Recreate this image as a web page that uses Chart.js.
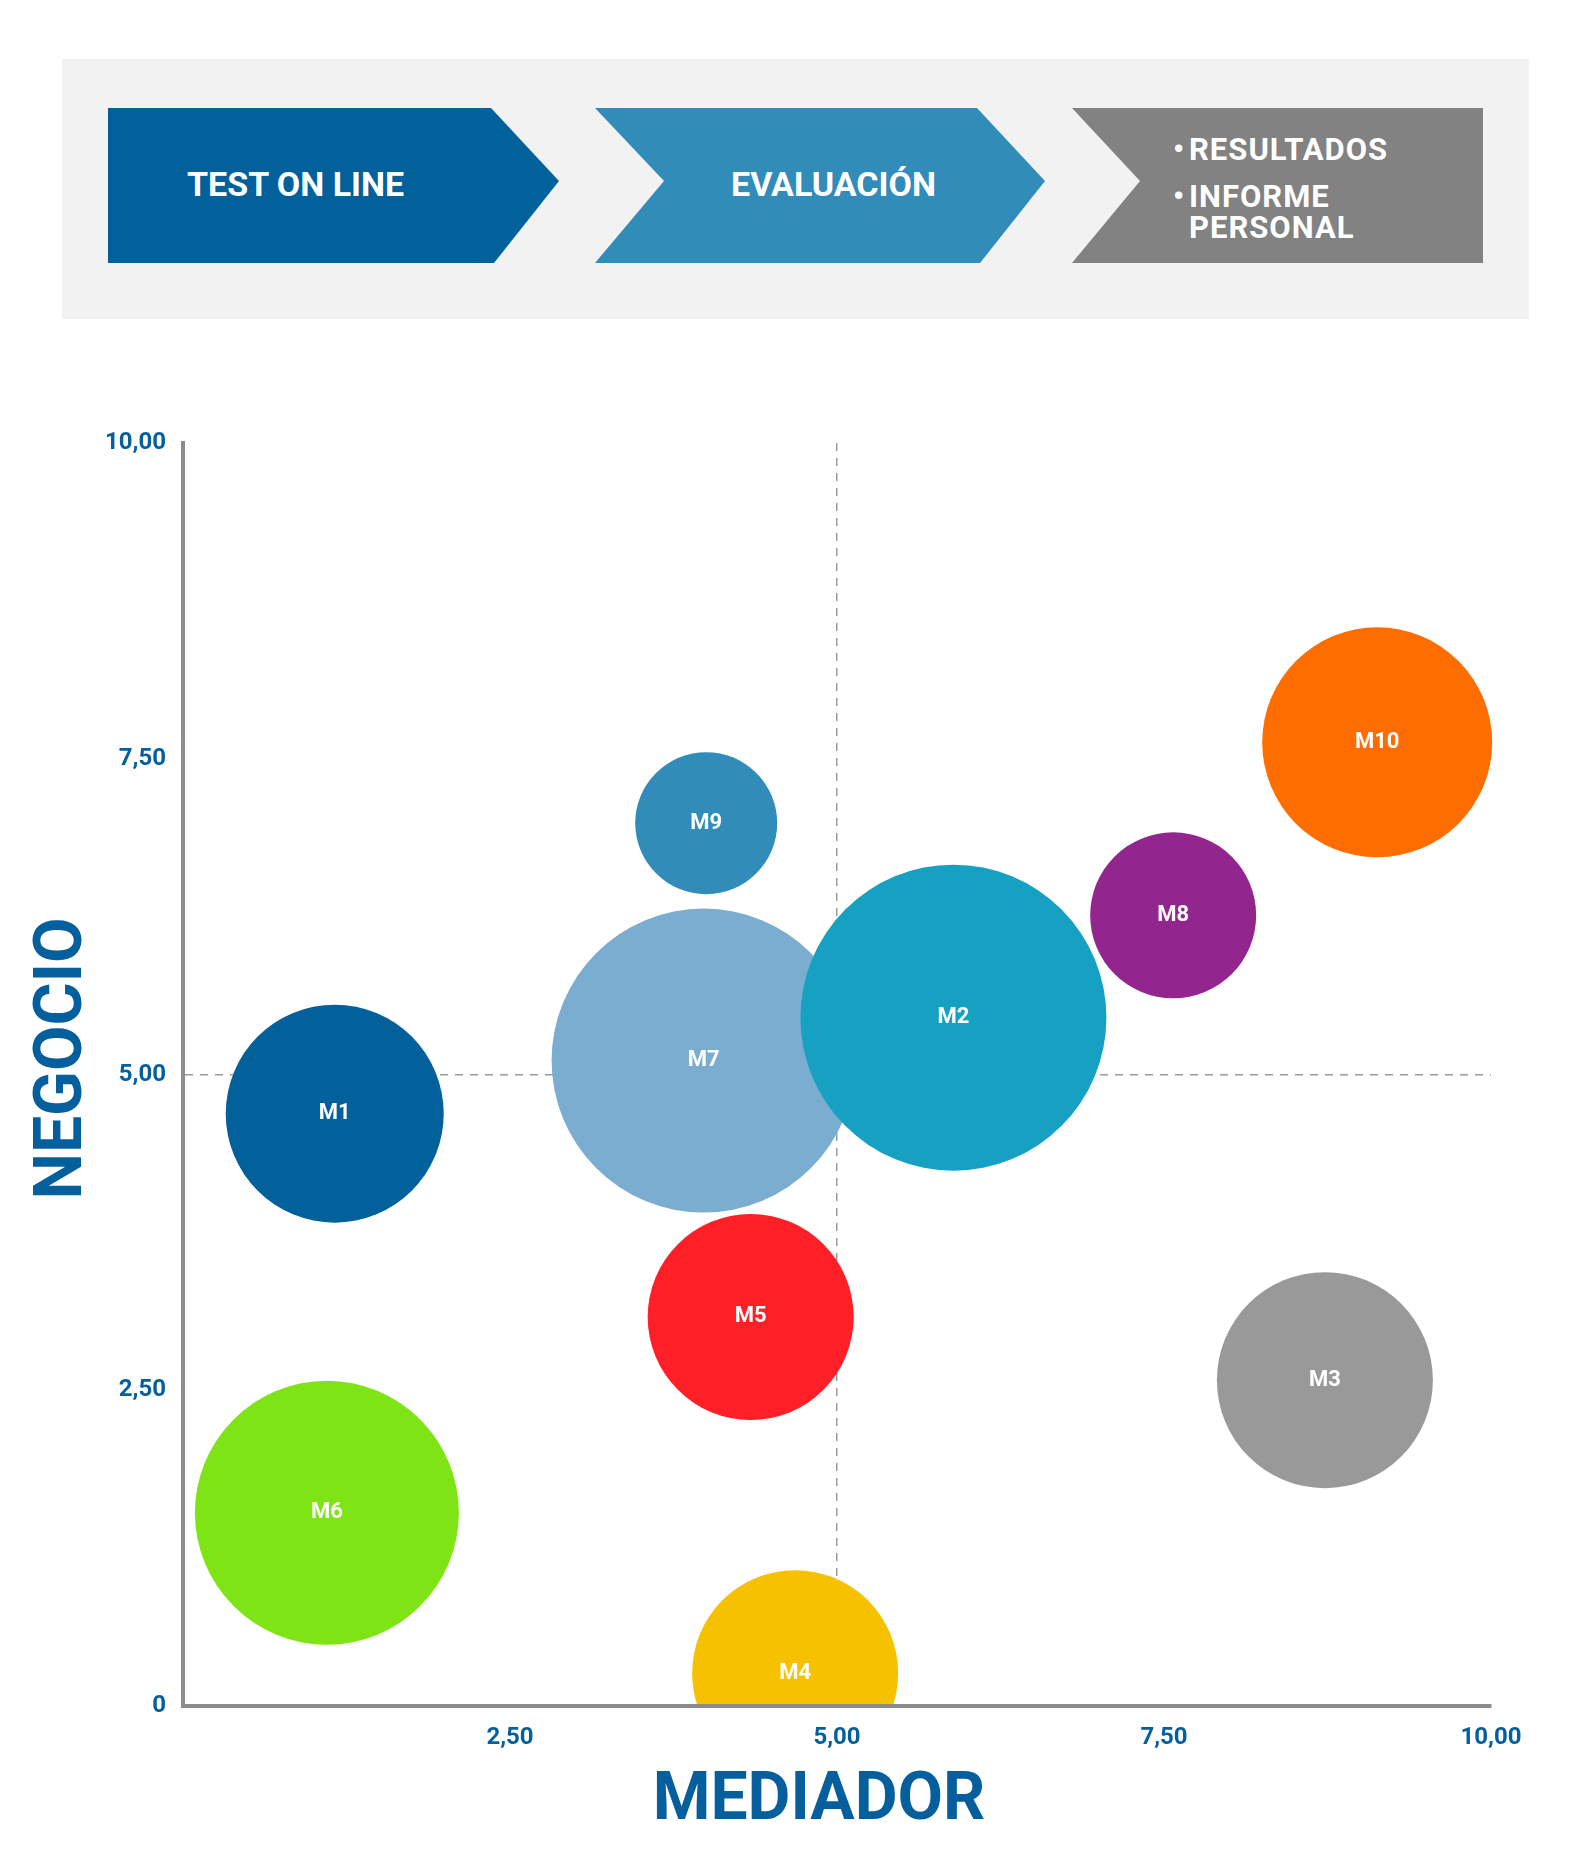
<!DOCTYPE html>
<html>
<head>
<meta charset="utf-8">
<script src="https://cdn.jsdelivr.net/npm/chart.js@4.4.1/dist/chart.umd.min.js"></script>
<style>
  body { margin: 0; background: #fff; font-family: Roboto, "Noto Sans", sans-serif; }
  #page { position: relative; width: 1592px; height: 1876px; overflow: hidden; }
  #chart { position: absolute; left: 0; top: 0; }
  .panel { position: absolute; left: 62px; top: 59px; width: 1467px; height: 260px; background: #f2f2f2; }
  .arrow { position: absolute; top: 108px; height: 155px; }
  .step { position: absolute; color: #fff; font-weight: bold; white-space: nowrap; }
</style>
</head>
<body>
<div id="page">
  <canvas id="chart" width="1592" height="1876"></canvas>

  <div class="panel"></div>
  <div class="arrow" style="left:108px;width:451px;background:#02609b;clip-path:polygon(0 0,383px 0,451px 73px,386px 155px,0 155px);"></div>
  <div class="arrow" style="left:595px;width:450px;background:#318cb9;clip-path:polygon(0 0,382px 0,450px 73px,385px 155px,0 155px,69px 73px);"></div>
  <div class="arrow" style="left:1072px;width:411px;background:#828282;clip-path:polygon(0 0,411px 0,411px 155px,0 155px,68px 73px);"></div>

  <div class="step" style="left:187px;top:164px;font-size:34px;line-height:40px;">TEST ON LINE</div>
  <div class="step" style="left:731px;top:164px;font-size:34px;line-height:40px;">EVALUACIÓN</div>
  <div class="step" style="left:1173px;top:134px;font-size:31px;line-height:32px;letter-spacing:1px;"><span style="display:inline-block;width:16px;">•</span>RESULTADOS</div>
  <div class="step" style="left:1173px;top:181px;font-size:31px;line-height:32px;letter-spacing:1px;"><span style="display:inline-block;width:16px;">•</span>INFORME</div>
  <div class="step" style="left:1189px;top:212px;font-size:31px;line-height:32px;letter-spacing:1px;">PERSONAL</div>
</div>

<script>
// bubbles, listed in drawing order (M2 sits on top of M7)
var names  = ['M1', 'M7', 'M2', 'M3', 'M4', 'M5', 'M6', 'M8', 'M9', 'M10'];
var xVals  = [1.16, 3.98, 5.89, 8.73, 4.68, 4.34, 1.10, 7.57, 4.00, 9.13];   // MEDIADOR
var yVals  = [4.69, 5.11, 5.45, 2.58, 0.26, 3.08, 1.53, 6.26, 6.99, 7.63];   // NEGOCIO
var sizes  = [109, 152, 153, 108, 103, 103, 132, 83, 71, 115];
var colors = ['#02609b', '#7aadcf', '#16a1c3', '#999999', '#f6c100',
              '#ff1f27', '#7fe416', '#93268e', '#318cb9', '#ff6d00'];

var xTicks = ['', '2,50', '5,00', '7,50', '10,00'];
var yTicks = ['0', '2,50', '5,00', '7,50', '10,00'];

var blue = '#045f9c';

var points = [];
for (var i = 0; i < names.length; i++) {
    points.push({ x: xVals[i], y: yVals[i], r: sizes[i] });
}

// names in the middle of each bubble
var bubbleNames = {
    id: 'bubbleNames',
    afterDatasetsDraw: function(chart) {
        var ctx = chart.ctx;
        var meta = chart.getDatasetMeta(0);
        ctx.save();
        ctx.fillStyle = '#fff';
        ctx.font = 'bold 22px Roboto';
        ctx.textAlign = 'center';
        ctx.textBaseline = 'middle';
        meta.data.forEach(function(el, i) {
            ctx.fillText(names[i], el.x, el.y);
        });
        ctx.restore();
    }
};

// big axis titles
var axisTitles = {
    id: 'axisTitles',
    afterDraw: function(chart) {
        var ctx = chart.ctx;
        var a = chart.chartArea;
        ctx.save();
        ctx.fillStyle = blue;
        ctx.font = 'bold 66px Roboto';
        ctx.textAlign = 'center';
        ctx.textBaseline = 'middle';
        ctx.fillText('MEDIADOR', (a.left + a.right) / 2 - 18, a.bottom + 96);
        ctx.translate(a.left - 119, (a.top + a.bottom) / 2 - 16);
        ctx.rotate(-Math.PI / 2);
        ctx.fillText('NEGOCIO', 0, 0);
        ctx.restore();
    }
};

function midLine(c) {
    return c.tick && c.tick.value === 5 ? '#9a9a9a' : 'rgba(0,0,0,0)';
}

var ctx = document.getElementById('chart');
var chart = new Chart(ctx, {
    type: 'bubble',
    data: {
        datasets: [{
            data: points,
            backgroundColor: colors,
            borderWidth: 0,
            hoverBorderWidth: 0,
            clip: { left: 0, top: 0, right: 10, bottom: -2 }
        }]
    },
    options: {
        responsive: false,
        animation: false,
        devicePixelRatio: 1,
        events: [],
        layout: {
            autoPadding: false,
            padding: { top: 443, left: 0, right: 101, bottom: 70 }
        },
        plugins: {
            legend: { display: false },
            tooltip: { enabled: false }
        },
        scales: {
            x: {
                type: 'linear',
                min: 0,
                max: 10,
                afterFit: function(s) { s.height = 100; },
                grid: { color: midLine, lineWidth: 1.5, drawTicks: false, borderDash: [8, 7] },
                border: { display: true, color: '#8c8c8c', width: 4, dash: [8, 7] },
                ticks: {
                    stepSize: 2.5,
                    autoSkip: false,
                    maxRotation: 0,
                    padding: 18,
                    color: blue,
                    font: { family: 'Roboto', size: 24, weight: 'bold' },
                    callback: function(v, i) { return xTicks[i]; }
                }
            },
            y: {
                type: 'linear',
                min: 0,
                max: 10,
                afterFit: function(s) { s.width = 183; },
                grid: { color: midLine, lineWidth: 1.5, drawTicks: false, borderDash: [8, 7] },
                border: { display: true, color: '#8c8c8c', width: 4, dash: [8, 7] },
                ticks: {
                    stepSize: 2.5,
                    autoSkip: false,
                    padding: 17,
                    color: blue,
                    font: { family: 'Roboto', size: 24, weight: 'bold' },
                    callback: function(v, i) { return yTicks[i]; }
                }
            }
        }
    },
    plugins: [bubbleNames, axisTitles]
});
</script>
</body>
</html>
